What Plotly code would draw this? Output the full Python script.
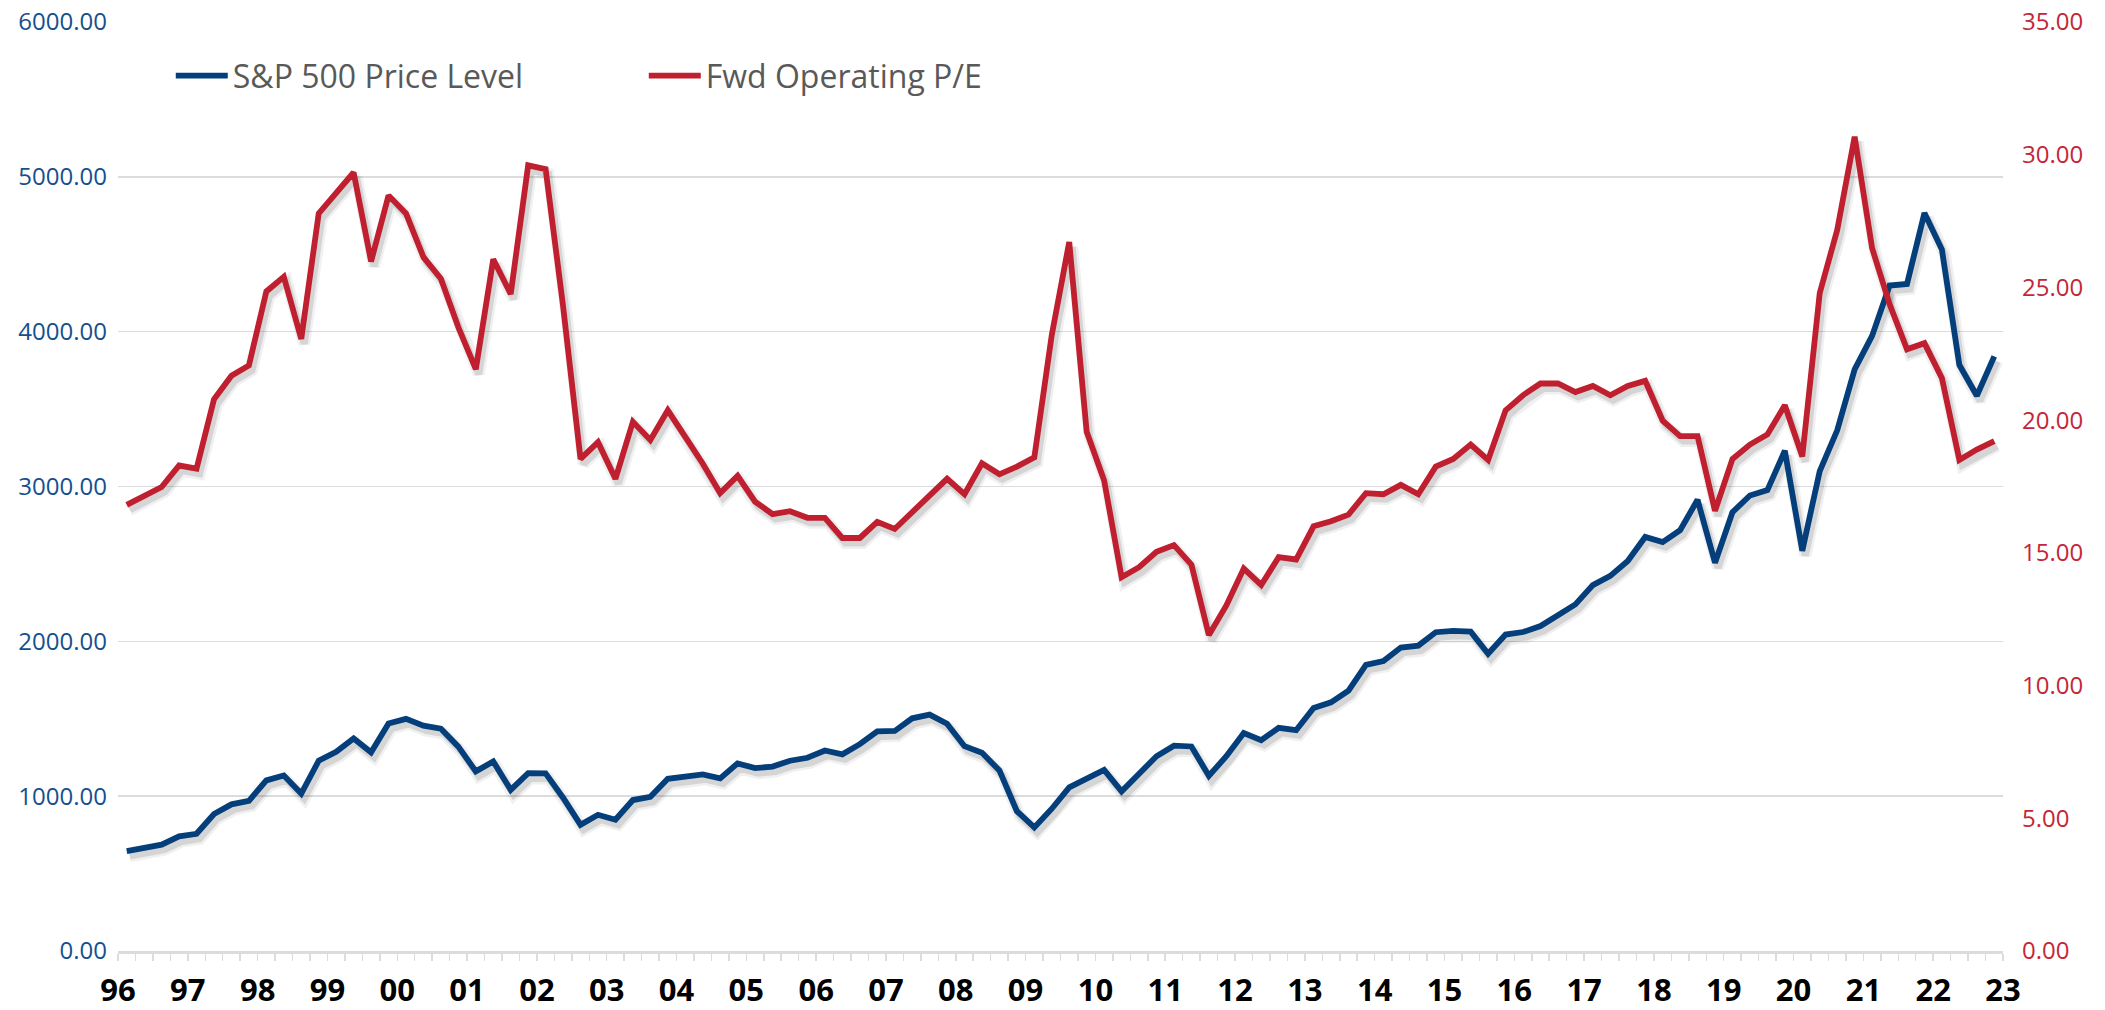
import plotly.graph_objects as go

# ---------------- data (quarterly, 1996Q1 .. 2022Q4) ----------------
sp500 = [
    645, 670, 687, 740,
    757, 885, 947, 970,
    1102, 1134, 1017, 1229,
    1286, 1373, 1283, 1469,
    1499, 1455, 1436, 1320,
    1160, 1224, 1041, 1148,
    1147, 990, 815, 880,
    848, 975, 996, 1112,
    1126, 1141, 1115, 1212,
    1181, 1191, 1229, 1248,
    1295, 1270, 1336, 1418,
    1421, 1503, 1527, 1468,
    1323, 1280, 1166, 903,
    798, 919, 1057, 1115,
    1169, 1031, 1141, 1258,
    1326, 1321, 1131, 1258,
    1408, 1362, 1441, 1426,
    1569, 1606, 1682, 1848,
    1872, 1960, 1972, 2059,
    2068, 2063, 1920, 2044,
    2060, 2099, 2168, 2239,
    2363, 2423, 2519, 2674,
    2641, 2718, 2914, 2507,
    2834, 2942, 2977, 3231,
    2585, 3100, 3363, 3756,
    3973, 4298, 4308, 4766,
    4530, 3785, 3586, 3840,
]

fwd_pe = [
    16.81, 17.13, 17.48, 18.29, 18.17, 20.79, 21.67, 22.06, 24.85, 25.40,
    23.06, 27.79, 28.56, 29.33, 25.98, 28.46, 27.79, 26.14, 25.33, 23.50,
    21.92, 26.06, 24.75, 29.60, 29.46, 24.30, 18.54, 19.17, 17.79, 19.94,
    19.25, 20.37, 19.37, 18.37, 17.25, 17.90, 16.93, 16.46, 16.57, 16.32,
    16.32, 15.56, 15.56, 16.17, 15.90, 16.52, 17.15, 17.79, 17.21, 18.37,
    17.96, 18.25, 18.60, 23.21, 26.71, 19.56, 17.73, 14.08, 14.46, 15.04,
    15.29, 14.56, 11.90, 13.02, 14.41, 13.79, 14.84, 14.75, 16.00, 16.19,
    16.44, 17.25, 17.21, 17.56, 17.21, 18.25, 18.54, 19.08, 18.50, 20.37,
    20.94, 21.38, 21.38, 21.06, 21.29, 20.94, 21.29, 21.48, 19.98, 19.40,
    19.40, 16.58, 18.54, 19.08, 19.46, 20.56, 18.63, 24.79, 27.16, 30.68,
    26.48, 24.37, 22.67, 22.90, 21.58, 18.50, 18.89, 19.21,
]

year_labels = ["96", "97", "98", "99", "00", "01", "02", "03", "04", "05",
               "06", "07", "08", "09", "10", "11", "12", "13", "14", "15",
               "16", "17", "18", "19", "20", "21", "22", "23"]

left_ticks = [0, 1000, 2000, 3000, 4000, 5000, 6000]
right_ticks = [0, 5, 10, 15, 20, 25, 30, 35]

# ---------------- styling ----------------
BLUE = "#043f7b"
RED = "#c01f2f"
BLUE_TXT = "#15508e"
RED_TXT = "#c52637"
GRID = "#dcdcdc"
FONT = "Open Sans"

W, H = 2105, 1010
ML, MR, MT, MB = 118, 102, 22, 59
PW, PH = W - ML - MR, H - MT - MB

n = len(sp500)
qx = list(range(n))
X_RANGE = [-0.5, n - 0.5]
Y_RANGE = [0, 6000]
Y2_RANGE = [0, 35]

# shadow offset (pixels) expressed as range shifts
SDX, SDY = 3, 5
dx = SDX * (X_RANGE[1] - X_RANGE[0]) / PW
dy1 = SDY * (Y_RANGE[1] - Y_RANGE[0]) / PH
dy2 = SDY * (Y2_RANGE[1] - Y2_RANGE[0]) / PH

# quarter boundaries for ticks; label each year start
tickvals = [k - 0.5 for k in range(n + 1)]
ticktext = [year_labels[k // 4] if k % 4 == 0 else "" for k in range(n + 1)]

fig = go.Figure()

# empty traces so visible axes render
fig.add_trace(go.Scatter(x=[], y=[], xaxis="x", yaxis="y", showlegend=False, hoverinfo="skip"))
fig.add_trace(go.Scatter(x=[], y=[], xaxis="x", yaxis="y2", showlegend=False, hoverinfo="skip"))

# shadows
for w, a in [(12, 0.06), (7, 0.11)]:
    fig.add_trace(go.Scatter(x=qx, y=sp500, xaxis="x2", yaxis="y3", mode="lines",
                             line=dict(color=f"rgba(0,0,0,{a})", width=w),
                             showlegend=False, hoverinfo="skip"))
    fig.add_trace(go.Scatter(x=qx, y=fwd_pe, xaxis="x2", yaxis="y4", mode="lines",
                             line=dict(color=f"rgba(0,0,0,{a})", width=w),
                             showlegend=False, hoverinfo="skip"))

# main series
fig.add_trace(go.Scatter(x=qx, y=sp500, xaxis="x3", yaxis="y5", mode="lines",
                         name="S&P 500 Price Level",
                         line=dict(color=BLUE, width=5.8)))
fig.add_trace(go.Scatter(x=qx, y=fwd_pe, xaxis="x3", yaxis="y6", mode="lines",
                         name="Fwd Operating P/E",
                         line=dict(color=RED, width=5.8)))

hidden = dict(visible=False, showgrid=False, zeroline=False, fixedrange=True, automargin=False)

fig.update_layout(
    width=W, height=H,
    margin=dict(l=ML, r=MR, t=MT, b=MB, autoexpand=False),
    paper_bgcolor="white", plot_bgcolor="white",
    font=dict(family=FONT),
    xaxis=dict(
        range=X_RANGE, tickmode="array", tickvals=tickvals, ticktext=ticktext,
        ticks="outside", ticklen=7, tickwidth=1.5, tickcolor=GRID,
        showline=True, linecolor=GRID, linewidth=2.5,
        showgrid=False, zeroline=False, automargin=False,
        tickfont=dict(family=FONT, size=31, color="#000000", weight="bold"),
        ticklabelstandoff=3,
    ),
    yaxis=dict(
        range=Y_RANGE, tickmode="array", tickvals=left_ticks, tickformat=".2f",
        showgrid=True, gridcolor=GRID, gridwidth=1.5,
        zeroline=False, showline=False, ticks="", automargin=False,
        tickfont=dict(family=FONT, size=24, color=BLUE_TXT),
        ticklabelstandoff=10,
    ),
    yaxis2=dict(
        range=Y2_RANGE, tickmode="array", tickvals=right_ticks, tickformat=".2f",
        overlaying="y", side="right", anchor="x", automargin=False,
        showgrid=False, zeroline=False, showline=False, ticks="",
        tickfont=dict(family=FONT, size=24, color=RED_TXT),
        ticklabelstandoff=18,
    ),
    xaxis2=dict(range=[X_RANGE[0] - dx, X_RANGE[1] - dx], overlaying="x", anchor="y3", **hidden),
    yaxis3=dict(range=[Y_RANGE[0] + dy1, Y_RANGE[1] + dy1], overlaying="y", anchor="x2", **hidden),
    yaxis4=dict(range=[Y2_RANGE[0] + dy2, Y2_RANGE[1] + dy2], overlaying="y", anchor="x2", **hidden),
    xaxis3=dict(range=X_RANGE, overlaying="x", anchor="y5", **hidden),
    yaxis5=dict(range=Y_RANGE, overlaying="y", anchor="x3", **hidden),
    yaxis6=dict(range=Y2_RANGE, overlaying="y", anchor="x3", **hidden),
    legend=dict(
        orientation="h", x=0.028, y=0.942, xanchor="left", yanchor="middle",
        font=dict(family=FONT, size=32, color="#595959"),
        bgcolor="rgba(0,0,0,0)", itemwidth=52,
        entrywidth=406, entrywidthmode="pixels",
    ),
    showlegend=True,
    hovermode=False,
)

fig.write_html(
    "out.html",
    config={"displayModeBar": False, "staticPlot": True},
    post_script="document.body.style.margin='0px';document.body.style.overflow='hidden';",
)
